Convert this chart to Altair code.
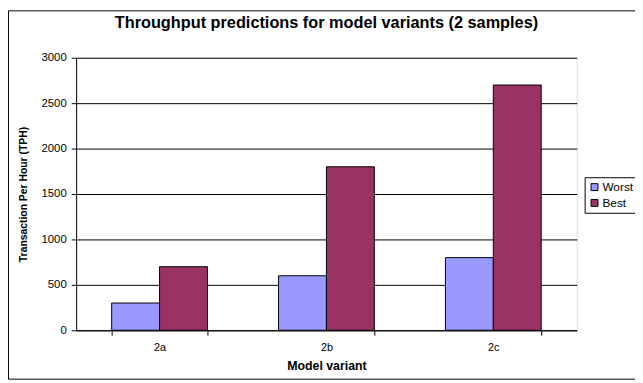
import altair as alt
import pandas as pd

variants = ["2a", "2b", "2c"]
series = ["Worst", "Best"]
worst = [300, 600, 800]
best = [700, 1800, 2700]
y_ticks = [0, 500, 1000, 1500, 2000, 2500, 3000]

rows = []
for i, v in enumerate(variants):
    rows.append({"variant": v, "series": "Worst", "tph": worst[i]})
    rows.append({"variant": v, "series": "Best", "tph": best[i]})
df = pd.DataFrame(rows)

FONT = "Liberation Sans"
W, H = 507, 276

bars = alt.Chart(df).mark_bar(stroke="black", strokeWidth=1).encode(
    x=alt.X(
        "variant:N", sort=variants, title="Model variant",
        scale=alt.Scale(paddingInner=0.426, paddingOuter=0.213),
        axis=alt.Axis(labelAngle=0, tickBand="extent", grid=False,
                      domainColor="black", tickColor="black", tickSize=5,
                      labelFont=FONT, labelFontSize=11, labelColor="black",
                      labelPadding=6, titleFont=FONT, titleFontSize=12.5,
                      titleFontWeight="bold", titleColor="black", titlePadding=8),
    ),
    xOffset=alt.XOffset("series:N", sort=series,
                        scale=alt.Scale(domain=series, paddingInner=0, paddingOuter=0)),
    y=alt.Y(
        "tph:Q", title="Transaction Per Hour (TPH)",
        scale=alt.Scale(domain=[0, 3000], nice=False),
        axis=alt.Axis(values=y_ticks, format="d", grid=True, gridColor="black",
                      gridOpacity=1, domainColor="black", tickColor="black", tickSize=5,
                      labelFont=FONT, labelFontSize=11.5, labelColor="black",
                      labelPadding=5, titleFont=FONT, titleFontSize=10.5,
                      titleFontWeight="bold", titleColor="black", titlePadding=13),
    ),
    color=alt.Color(
        "series:N", sort=series,
        scale=alt.Scale(domain=series, range=["#9999FF", "#993366"]),
        legend=alt.Legend(title=None, orient="none", legendX=515, legendY=121,
                          symbolType="square", symbolSize=49, symbolStrokeColor="black",
                          symbolStrokeWidth=1, labelFont=FONT, labelFontSize=12,
                          labelColor="black", strokeColor="black", padding=4,
                          rowPadding=4, labelOffset=2),
    ),
)

border = alt.Chart(pd.DataFrame({"a": [0]})).mark_rect(
    filled=False, stroke="black", strokeWidth=1
).encode(
    x=alt.value(-68.5), x2=alt.value(575), y=alt.value(-47.5), y2=alt.value(325.5)
)

chart = alt.layer(border, bars).properties(
    width=W, height=H,
    title=alt.TitleParams(
        "Throughput predictions for model variants (2 samples)",
        font=FONT, fontSize=16.5, fontWeight="bold", color="black",
        anchor="middle", offset=-21,
    ),
    autosize=alt.AutoSizeParams(type="none"),
    padding={"left": 69, "top": 48, "right": 59, "bottom": 51},
).configure_view(
    fill="#C0C0C0", stroke="#808080", strokeWidth=1
).configure(background="white")

chart.save("out.html", embed_options={"renderer": "svg", "actions": False})
